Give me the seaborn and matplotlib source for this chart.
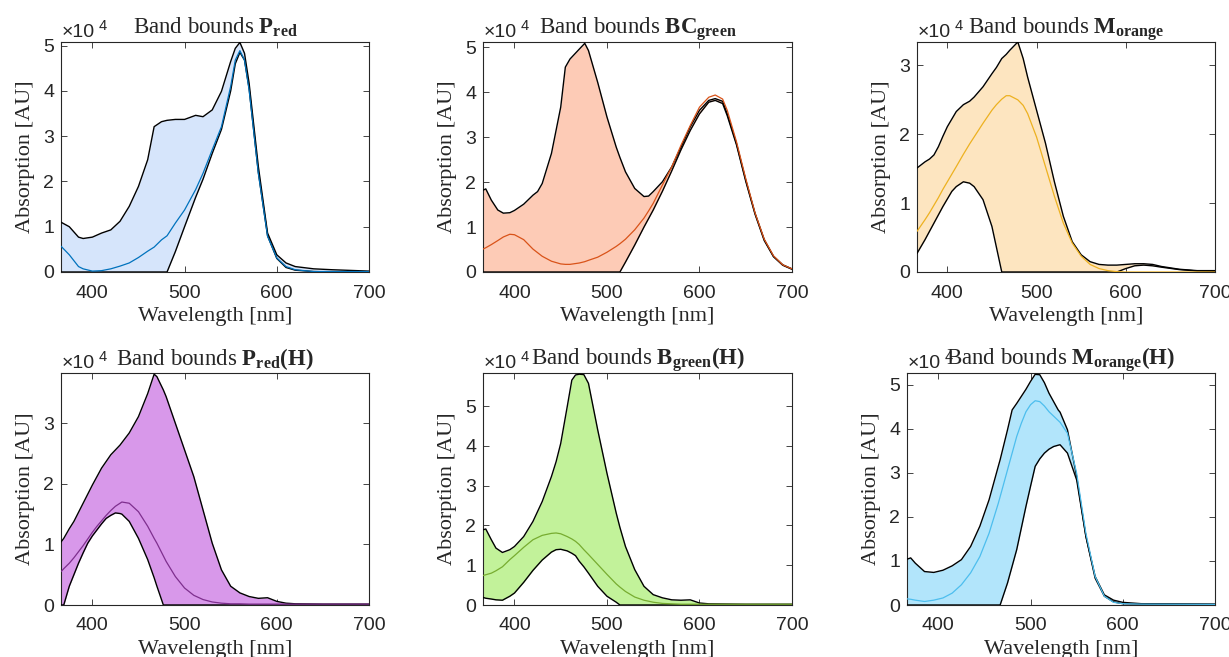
import numpy as np
import pandas as pd
import matplotlib
matplotlib.use("Agg")
import matplotlib.pyplot as plt
import seaborn as sns

# ---------------- data (absorption in units of 1e4 AU) ----------------
wl_p = [366,375,385,390,400,410,420,430,440,450,460,467,475,481,490,500,512,520,530,540,550,555,560,565,570,580,590,600,610,620,640,660,700]
up_p = [1.10,1.0,0.77,0.74,0.77,0.86,0.93,1.12,1.45,1.89,2.48,3.21,3.32,3.35,3.37,3.37,3.46,3.43,3.58,3.99,4.65,4.94,5.07,4.83,4.17,2.33,0.86,0.38,0.2,0.12,0.07,0.05,0.02]
mid_p = [0.57,0.38,0.12,0.07,0.02,0.03,0.07,0.13,0.2,0.32,0.46,0.55,0.71,0.8,1.08,1.37,1.82,2.18,2.7,3.21,4.1,4.68,4.89,4.68,4.02,2.18,0.79,0.31,0.12,0.05,0.01,0.01,0.01]
lo_p = [0,0,0,0,0,0,0,0,0,0,0,0,0,0,0.45,1.0,1.65,2.05,2.62,3.15,4.0,4.6,4.85,4.68,4.05,2.2,0.8,0.3,0.1,0.04,0.01,0.0,0.0]

wl_bc = [366,369,375,382,388,395,400,410,420,425,430,440,450,455,460,470,476,480,490,500,510,514,520,530,540,545,550,560,570,580,590,600,610,617,625,630,640,650,660,670,680,690,700]
up_bc = [1.82,1.85,1.6,1.38,1.31,1.32,1.37,1.51,1.71,1.79,1.97,2.64,3.67,4.56,4.74,4.96,5.09,4.93,4.22,3.45,2.78,2.55,2.23,1.86,1.68,1.69,1.79,2.01,2.34,2.78,3.23,3.6,3.82,3.86,3.80,3.52,2.86,2.05,1.31,0.72,0.35,0.16,0.07]
mid_bc = [0.51,0.54,0.61,0.70,0.78,0.84,0.83,0.72,0.51,0.43,0.35,0.24,0.18,0.17,0.17,0.2,0.23,0.26,0.33,0.44,0.57,0.63,0.73,0.94,1.2,1.36,1.53,1.94,2.34,2.82,3.26,3.67,3.89,3.94,3.85,3.6,2.9,2.08,1.32,0.73,0.36,0.16,0.07]
lo_bc = [0,0,0,0,0,0,0,0,0,0,0,0,0,0,0,0,0,0,0,0,0,0,0.22,0.6,1.0,1.19,1.38,1.8,2.25,2.72,3.15,3.52,3.78,3.82,3.75,3.48,2.83,2.02,1.29,0.7,0.34,0.15,0.06]

wl_m = [366,375,380,385,390,395,400,405,410,418,425,430,440,450,455,461,466,470,479,485,490,500,510,520,530,540,550,560,570,580,590,600,610,620,630,640,660,680,700]
up_m = [1.51,1.6,1.64,1.70,1.82,1.97,2.11,2.22,2.33,2.43,2.48,2.54,2.69,2.88,2.97,3.10,3.16,3.22,3.34,3.10,2.83,2.35,1.87,1.31,0.81,0.44,0.25,0.15,0.11,0.10,0.10,0.11,0.12,0.12,0.11,0.08,0.04,0.02,0.02]
mid_m = [0.59,0.76,0.86,0.97,1.08,1.2,1.31,1.42,1.53,1.71,1.86,1.96,2.16,2.35,2.43,2.51,2.56,2.56,2.5,2.42,2.30,1.96,1.53,1.10,0.71,0.42,0.23,0.11,0.05,0.02,0.005,0,0,0,0,0,0,0,0]
lo_m = [0.27,0.47,0.59,0.71,0.83,0.95,1.06,1.17,1.24,1.31,1.29,1.24,1.05,0.66,0.36,0,0,0,0,0,0,0,0,0,0,0,0,0,0,0,0,0.05,0.09,0.1,0.09,0.07,0.035,0.015,0.01]

wl_ph = [366,369,375,380,385,390,395,400,405,410,415,420,425,430,432,440,450,460,467,470,477,480,490,500,510,520,530,540,550,560,570,580,590,600,610,620,650,700]
up_ph = [1.04,1.10,1.26,1.38,1.53,1.68,1.83,1.98,2.12,2.26,2.37,2.48,2.56,2.64,2.68,2.84,3.11,3.49,3.81,3.77,3.55,3.44,3.0,2.56,2.12,1.57,1.02,0.58,0.31,0.2,0.14,0.11,0.12,0.06,0.03,0.02,0.015,0.015]
mid_ph = [0.55,0.6,0.69,0.78,0.88,0.98,1.09,1.2,1.30,1.39,1.48,1.56,1.63,1.68,1.70,1.68,1.54,1.30,1.1,1.02,0.81,0.72,0.47,0.28,0.16,0.09,0.05,0.03,0.02,0.02,0.015,0.015,0.015,0.015,0.015,0.015,0.015,0.015]
lo_ph = [0,0,0.31,0.5,0.69,0.86,1.02,1.14,1.24,1.34,1.43,1.48,1.52,1.51,1.50,1.38,1.10,0.75,0.45,0.31,0,0,0,0,0,0,0,0,0,0,0,0,0,0,0,0,0,0]

wl_bh = [366,369,375,380,387,395,400,410,420,430,440,445,450,457,462,466,470,475,480,490,500,510,514,520,530,540,550,560,570,580,590,600,610,650,700]
up_bh = [1.89,1.91,1.64,1.43,1.32,1.39,1.47,1.72,2.10,2.60,3.23,3.6,4.06,4.98,5.65,5.78,5.80,5.79,5.57,4.40,3.31,2.31,1.95,1.47,0.89,0.47,0.26,0.18,0.13,0.12,0.13,0.05,0.03,0.02,0.02]
mid_bh = [0.74,0.76,0.80,0.86,0.96,1.14,1.24,1.45,1.64,1.75,1.80,1.81,1.79,1.72,1.66,1.60,1.52,1.39,1.27,1.02,0.77,0.53,0.45,0.34,0.2,0.12,0.07,0.04,0.03,0.02,0.02,0.02,0.02,0.02,0.02]
lo_bh = [0.19,0.17,0.15,0.13,0.12,0.22,0.3,0.57,0.87,1.13,1.33,1.39,1.40,1.36,1.30,1.24,1.10,0.96,0.80,0.47,0.22,0.07,0,0,0,0,0,0,0,0,0,0,0,0,0]

wl_mh = [366,370,375,385,395,405,415,425,435,445,455,465,467,475,480,485,490,495,500,505,510,515,520,525,530,532,540,550,560,570,580,590,600,620,700]
up_mh = [1.04,1.07,0.95,0.76,0.74,0.79,0.89,1.03,1.33,1.79,2.39,3.15,3.3,3.98,4.43,4.58,4.74,4.9,5.08,5.24,5.23,5.05,4.81,4.62,4.43,4.38,3.98,2.92,1.56,0.65,0.23,0.11,0.06,0.03,0.02]
mid_mh = [0.14,0.13,0.11,0.08,0.11,0.16,0.27,0.46,0.73,1.10,1.63,2.31,2.46,3.07,3.45,3.83,4.13,4.39,4.55,4.64,4.62,4.52,4.39,4.29,4.19,4.15,3.90,2.99,1.63,0.65,0.20,0.06,0.03,0.02,0.015]
lo_mh = [0,0,0,0,0,0,0,0,0,0,0,0,0,0.5,0.88,1.26,1.75,2.24,2.7,3.15,3.32,3.45,3.54,3.60,3.63,3.64,3.45,2.84,1.56,0.61,0.20,0.07,0.03,0.02,0.015]

titles = [r"Band bounds $\mathbf{P}_{\mathbf{red}}$",
          r"Band bounds $\mathbf{BC}_{\mathbf{green}}$",
          r"Band bounds $\mathbf{M}_{\mathbf{orange}}$",
          r"Band bounds $\mathbf{P}_{\mathbf{red}}\mathbf{(H)}$",
          r"Band bounds $\mathbf{B}_{\mathbf{green}}\mathbf{(H)}$",
          r"Band bounds $\mathbf{M}_{\mathbf{orange}}\mathbf{(H)}$"]
line_colors = ["#0072BD", "#D95319", "#EDB120", "#7E2F8E", "#77AC30", "#4DBEEE"]
fill_colors = ["#d6e5fb", "#fdcbb6", "#fde5c0", "#d898ea", "#c2f29a", "#b2e5fb"]
y_tops = [5.08, 5.12, 3.34, 3.83, 5.83, 5.27]
y_ticks = [[0,1,2,3,4,5],[0,1,2,3,4,5],[0,1,2,3],[0,1,2,3],[0,1,2,3,4,5],[0,1,2,3,4,5]]
x_ticks = [400, 500, 600, 700]

panels = [(wl_p, up_p, mid_p, lo_p), (wl_bc, up_bc, mid_bc, lo_bc), (wl_m, up_m, mid_m, lo_m),
          (wl_ph, up_ph, mid_ph, lo_ph), (wl_bh, up_bh, mid_bh, lo_bh), (wl_mh, up_mh, mid_mh, lo_mh)]

# ---------------- style ----------------
sns.set_theme(style="ticks")
plt.rcParams["font.family"] = ["Liberation Sans", "DejaVu Sans"]
plt.rcParams["mathtext.fontset"] = "custom"
plt.rcParams["mathtext.rm"] = "Liberation Serif"
plt.rcParams["mathtext.bf"] = "Liberation Serif:bold"
plt.rcParams["mathtext.it"] = "Liberation Serif:italic"
plt.rcParams["mathtext.sf"] = "Liberation Sans"

W, H = 1229, 657
fig = plt.figure(figsize=(W / 100, H / 100), dpi=100)

# axes boxes in pixels: left, right, top, bottom
boxes = [(61, 369, 42, 272), (483, 792, 42, 272), (917, 1215, 42, 272),
         (61, 369, 373, 605), (483, 792, 373, 605), (907, 1215, 373, 605)]

for i, (box, (wl, up, mid, lo)) in enumerate(zip(boxes, panels)):
    l, r, t, b = box
    ax = fig.add_axes([l / W, (H - b) / H, (r - l) / W, (b - t) / H])
    wl_a = np.array(wl); up_a = np.array(up); mid_a = np.array(mid); lo_a = np.array(lo)
    ax.fill_between(wl_a, lo_a, up_a, color=fill_colors[i], lw=0, zorder=1)
    df = pd.DataFrame({"wl": wl_a, "upper": up_a, "mid": mid_a, "lower": lo_a})
    sns.lineplot(data=df, x="wl", y="upper", ax=ax, color="black", lw=1.0, zorder=3)
    sns.lineplot(data=df, x="wl", y="lower", ax=ax, color="black", lw=1.0, zorder=3)
    sns.lineplot(data=df, x="wl", y="mid", ax=ax, color=line_colors[i], lw=0.9, zorder=4)
    ax.set_xlim(366, 700)
    ax.set_ylim(0, y_tops[i])
    ax.set_xticks(x_ticks)
    ax.set_yticks(y_ticks[i])
    ax.tick_params(direction="in", top=True, right=True, length=4, width=0.6,
                   labelsize=14, colors="#262626")
    ax.tick_params(axis="x", pad=9)
    ax.tick_params(axis="y", pad=5)
    for s in ax.spines.values():
        s.set_linewidth(0.8)
        s.set_color("#262626")
    ax.set_xlabel("Wavelength [nm]", family="Liberation Serif", fontsize=16, color="#262626", labelpad=4)
    ax.set_ylabel("Absorption [AU]", family="Liberation Serif", fontsize=16, color="#262626", labelpad=6)
    ax.set_title(titles[i], family="Liberation Serif", fontsize=16.5, color="#262626", pad=6)
    ax.annotate("×10", xy=(0, 1), xycoords="axes fraction", xytext=(1, 5), textcoords="offset pixels",
                ha="left", va="baseline", fontsize=14, color="#262626")
    ax.annotate("4", xy=(0, 1), xycoords="axes fraction", xytext=(38, 12), textcoords="offset pixels",
                ha="left", va="baseline", fontsize=10.5, color="#262626")

fig.savefig("out.png", dpi=100)
